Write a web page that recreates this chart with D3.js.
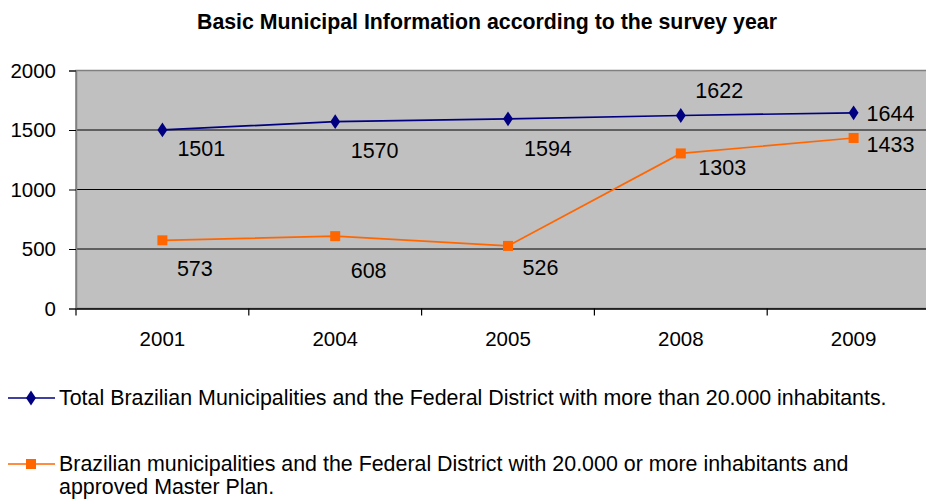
<!DOCTYPE html>
<html><head><meta charset="utf-8">
<script src="https://cdn.jsdelivr.net/npm/d3@7"></script>
<style>body{margin:0;background:#fff}svg{display:block;font-family:"Liberation Sans",Arial,sans-serif}</style>
</head><body><svg id="c" width="926" height="499"></svg>
<script>
const years = ["2001","2004","2005","2008","2009"];
const totalMunicipalities = [1501,1570,1594,1622,1644];
const withMasterPlan = [573,608,526,1303,1433];
const yTicks = [0,500,1000,1500,2000];
const title = "Basic Municipal Information according to the survey year";
const legendLabels = ["Total Brazilian Municipalities and the Federal District with more than 20.000 inhabitants.",
  ["Brazilian municipalities and the Federal District with 20.000 or more inhabitants and","approved Master Plan."]];
// data-label offsets relative to each point (layout config)
const blueLabelOffset = [[15,26],[15.5,36],[16,37],[14.5,-17],[13,8]];
const orangeLabelOffset = [[14.5,36],[15.5,42],[14.5,29],[17.5,22],[13,14]];

const svg = d3.select("#c");
const L=76, R=940, T=70.5, B=308.5;
const x = d3.scaleBand().domain(years).range([L,R]);
const y = d3.scaleLinear().domain([0,2000]).range([B,T]);

svg.append("text").attr("x",487).attr("y",29).attr("text-anchor","middle")
  .attr("font-weight","bold").attr("font-size",21.3).text(title);

svg.append("rect").attr("x",L).attr("y",T).attr("width",R-L).attr("height",B-T)
  .attr("fill","#c0c0c0").attr("stroke","#808080").attr("stroke-width",1.5);

yTicks.slice(1,4).forEach(v=>{
  svg.append("line").attr("x1",L).attr("x2",R).attr("y1",y(v)).attr("y2",y(v)).attr("stroke","#000").attr("stroke-width",1);
});

const ya = svg.append("g").attr("transform",`translate(${L},0)`)
  .call(d3.axisLeft(y).tickValues(yTicks).tickSize(7).tickPadding(13).tickFormat(d3.format("d")));
ya.select(".domain").attr("stroke","#808080").attr("stroke-width",1.5);
ya.selectAll("text").attr("font-size",20.5).attr("fill","#000").attr("font-family","Liberation Sans, Arial, sans-serif");

const xa = svg.append("g").attr("transform",`translate(0,${B})`)
  .call(d3.axisBottom(x).tickSize(0).tickPadding(23));
xa.select(".domain").attr("stroke","#000").attr("stroke-width",1.5);
xa.selectAll("text").attr("font-size",20.5).attr("fill","#000").attr("font-family","Liberation Sans, Arial, sans-serif");
const bounds = years.map(d=>x(d)).concat([R]);
svg.append("g").selectAll("line").data(bounds).join("line")
  .attr("x1",d=>d).attr("x2",d=>d).attr("y1",B).attr("y2",B+7).attr("stroke","#000").attr("stroke-width",1.2);

const cx = d=>x(d)+x.bandwidth()/2;
const line = d3.line().x((d,i)=>cx(years[i])).y(d=>y(d));

svg.append("path").datum(totalMunicipalities).attr("d",line).attr("fill","none").attr("stroke","#000080").attr("stroke-width",1.7);
svg.append("path").datum(withMasterPlan).attr("d",line).attr("fill","none").attr("stroke","#ff6600").attr("stroke-width",1.7);

const diamond = d3.symbol().type(d3.symbolDiamond).size(70);
svg.append("g").selectAll("path").data(totalMunicipalities).join("path")
  .attr("transform",(d,i)=>`translate(${cx(years[i])},${y(d)}) scale(1.1,0.95)`).attr("d",diamond()).attr("fill","#000080");
svg.append("g").selectAll("rect").data(withMasterPlan).join("rect")
  .attr("x",(d,i)=>cx(years[i])-5).attr("y",d=>y(d)-5).attr("width",10).attr("height",10).attr("fill","#ff6600");

function labels(data,offs){
  svg.append("g").selectAll("text").data(data).join("text")
    .attr("x",(d,i)=>cx(years[i])+offs[i][0]).attr("y",(d,i)=>y(d)+offs[i][1])
    .attr("font-size",21.5).attr("fill","#000").text(d=>d);
}
labels(totalMunicipalities,blueLabelOffset);
labels(withMasterPlan,orangeLabelOffset);

const lg = svg.append("g");
lg.append("line").attr("x1",8).attr("x2",55).attr("y1",398).attr("y2",398).attr("stroke","#000080").attr("stroke-width",1.7);
lg.append("path").attr("transform","translate(31,398) scale(1.1,0.95)").attr("d",diamond()).attr("fill","#000080");
lg.append("text").attr("x",59).attr("y",405).attr("font-size",21.4).text(legendLabels[0]);
lg.append("line").attr("x1",8).attr("x2",55).attr("y1",464).attr("y2",464).attr("stroke","#ff6600").attr("stroke-width",1.7);
lg.append("rect").attr("x",26).attr("y",459).attr("width",10).attr("height",10).attr("fill","#ff6600");
lg.append("text").attr("x",59).attr("y",471).attr("font-size",21.4).text(legendLabels[1][0]);
lg.append("text").attr("x",59).attr("y",493.5).attr("font-size",21.4).text(legendLabels[1][1]);
</script></body></html>
